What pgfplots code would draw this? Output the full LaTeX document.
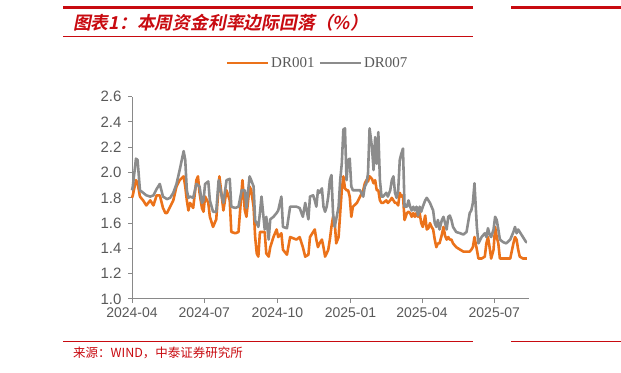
\documentclass[border=0pt]{standalone}
\usepackage{fontspec}
\setmainfont{Liberation Sans}
\newfontfamily\legfont{Liberation Serif}
\newfontfamily\cjk{Noto Sans CJK SC}
\newfontfamily\cjktitle[FakeSlant=0.2]{Noto Sans CJK SC Bold}
\usepackage{pgfplots}
\pgfplotsset{compat=1.18}
\definecolor{dro}{RGB}{235,114,26}
\definecolor{drg}{RGB}{140,140,140}
\definecolor{axg}{RGB}{137,137,137}
\definecolor{txg}{RGB}{89,89,89}
\definecolor{hred}{RGB}{200,10,16}
\begin{document}
\begin{tikzpicture}
\path[use as bounding box] (0,0) rectangle (621bp,373bp);
\fill[hred] (63bp,364bp) rectangle (473bp,367bp);
\fill[hred] (511bp,364bp) rectangle (621bp,367bp);
\draw[hred, line width=1bp] (63bp,336bp) -- (473bp,336bp);
\draw[hred, line width=1bp] (63bp,31bp) -- (473bp,31bp);
\draw[hred, line width=1bp] (511bp,31bp) -- (621bp,31bp);
\node[anchor=west, inner sep=0, text=hred, font=\cjktitle\fontsize{17.8bp}{20bp}\selectfont] at (73bp,350bp) {图表1：本周资金利率边际回落（\%）};
\node[anchor=west, inner sep=0, text=hred, font=\cjk\fontsize{12.5bp}{14bp}\selectfont] at (73bp,20bp) {来源：WIND，中泰证券研究所};
\begin{axis}[
  at={(132bp,74bp)}, anchor=south west,
  scale only axis, width=397.3bp, height=202.3bp,
  xmin=0, xmax=500, ymin=1.0, ymax=2.6,
  axis x line*=bottom, axis y line*=left,
  axis line style={axg, line width=1bp, -},
  tick align=outside, major tick length=4bp,
  tick style={axg, line width=1bp},
  xtick={0,91,183,275,365,456},
  xticklabels={2024-04,2024-07,2024-10,2025-01,2025-04,2025-07},
  ytick={1.0,1.2,1.4,1.6,1.8,2.0,2.2,2.4,2.6},
  /pgf/number format/assume math mode=true,
  ticklabel style={text=txg, font=\fontsize{14bp}{16bp}\selectfont},
  y tick label style={/pgf/number format/fixed, /pgf/number format/fixed zerofill, /pgf/number format/precision=1, xshift=-3bp, font=\fontsize{15bp}{17bp}\selectfont},
  x tick label style={yshift=-1bp},
  legend columns=2,
  legend style={at={(0.467,1.167)}, anchor=center, draw=none, fill=none,
    font=\legfont\fontsize{15bp}{17bp}\selectfont, text=txg,
    /tikz/every even column/.append style={column sep=2bp},
    inner sep=0pt},
  legend image code/.code={\draw[#1] (0bp,0bp) -- (41bp,0bp);},
  clip=false,
]
\addplot[dro, line width=2.6pt, line join=round] coordinates {
(0,1.80) (1,1.82) (5,1.94) (7,1.92) (10,1.81) (14,1.78) (18,1.74) (23,1.78) (27,1.74) (31,1.82) (35,1.82) (39,1.72) (42,1.68) (44,1.68) (48,1.73) (52,1.78) (56,1.89) (60,1.94) (65,1.97) (67,1.89) (69,1.78) (71,1.70) (73,1.76) (77,1.72) (81,1.94) (83,1.97) (85,1.84) (88,1.72) (90,1.69) (92,1.81) (96,1.76) (98,1.65) (102,1.57) (106,1.63) (110,1.97) (113,1.81) (115,1.70) (119,1.86) (123,1.78) (125,1.53) (130,1.52) (134,1.53) (139,1.94) (142,1.70) (144,1.65) (148,1.89) (150,1.86) (153,1.73) (155,1.49) (157,1.36) (159,1.335) (161,1.53) (163,1.53) (167,1.53) (169,1.36) (172,1.335) (174,1.41) (178,1.49) (182,1.55) (184,1.49) (188,1.52) (190,1.39) (195,1.35) (199,1.49) (203,1.48) (207,1.47) (211,1.49) (215,1.41) (218,1.335) (222,1.35)
(224,1.49) (228,1.53) (230,1.55) (232,1.47) (234,1.41) (236,1.44) (239,1.47) (241,1.41) (243,1.335) (245,1.36) (247,1.39) (249,1.47) (251,1.57) (253,1.65) (255,1.62) (257,1.44) (260,1.49) (262,1.68) (264,1.86) (266,1.97) (268,1.875) (270,1.86) (272,1.86) (274,1.81) (276,1.65) (278,1.73) (283,1.76) (287,1.81) (291,1.86) (293,1.915) (295,1.94) (297,1.93) (299,1.97) (302,1.95) (304,1.915) (306,1.94) (308,1.86) (310,1.86) (312,1.78) (314,1.76) (316,1.76) (320,1.78) (322,1.76) (325,1.78) (327,1.80) (329,1.78) (331,1.76) (333,1.76) (335,1.74) (337,1.84) (339,1.81) (341,1.82) (343,1.625) (346,1.68) (348,1.69) (350,1.68) (352,1.65) (354,1.68) (356,1.65) (358,1.68) (360,1.65) (362,1.68) (364,1.60) (366,1.57) (369,1.66) (371,1.55) (373,1.56) (375,1.60) (377,1.57) (379,1.55) (381,1.47) (383,1.41) (385,1.44) (387,1.44) (390,1.51) (392,1.57) (394,1.50) (396,1.47) (398,1.49) (400,1.47) (402,1.47) (404,1.44) (408,1.41) (413,1.39) (417,1.375) (421,1.375) (425,1.375) (427,1.39) (429,1.41) (431,1.49) (434,1.39) (436,1.32) (440,1.32) (444,1.335) (446,1.44) (448,1.49) (450,1.41) (452,1.32) (455,1.39) (457,1.57) (459,1.49) (461,1.44) (463,1.32) (467,1.32) (471,1.32) (476,1.32) (480,1.44) (482,1.49) (484,1.47) (486,1.39) (488,1.335) (492,1.32) (496,1.32) (497,1.32)
};
\addlegendentry{DR001}
\addplot[drg, line width=2.6pt, line join=round] coordinates {
(0,1.86) (1,1.89) (5,2.11) (7,2.10) (10,1.86) (14,1.84) (18,1.82) (23,1.81) (27,1.82) (31,1.87) (35,1.91) (39,1.81) (44,1.79) (48,1.80) (52,1.84) (56,1.91) (60,2.02) (65,2.17) (67,2.10) (69,1.86) (71,1.80) (73,1.81) (77,1.80) (81,1.91) (85,1.89) (88,1.76) (90,1.78) (92,1.91) (96,1.93) (98,1.78) (102,1.69) (106,1.69) (109,1.94) (113,1.81) (115,1.76) (119,1.94) (123,1.95) (125,1.73) (130,1.72) (134,1.73) (138,1.86) (142,1.86) (144,1.72) (148,1.97) (150,1.94) (153,1.89) (155,1.62) (157,1.60) (159,1.57) (161,1.68) (163,1.81) (167,1.55) (169,1.65) (172,1.47) (174,1.63) (178,1.65) (182,1.68) (184,1.70) (188,1.81) (190,1.57) (195,1.56) (199,1.73) (203,1.73) (207,1.73) (211,1.72) (215,1.65) (218,1.76) (222,1.63)
(224,1.81) (228,1.82) (230,1.78) (232,1.73) (234,1.86) (236,1.84) (239,1.875) (241,1.73) (243,1.69) (245,1.73) (247,1.81) (249,1.94) (251,1.98) (253,1.68) (255,1.57) (257,1.63) (260,1.73) (262,1.94) (264,2.07) (266,2.34) (268,2.35) (270,1.94) (272,2.10) (274,2.11) (276,1.89) (278,1.86) (283,1.86) (287,1.86) (291,1.81) (293,1.89) (295,1.915) (297,1.99) (299,2.35) (302,2.20) (304,2.02) (306,2.28) (308,2.07) (310,2.32) (312,1.94) (314,1.81) (316,1.81) (320,1.84) (322,1.81) (325,1.86) (327,1.94) (329,1.97) (331,1.84) (333,1.80) (335,1.86) (337,2.10) (339,2.15) (341,2.19) (343,1.73) (346,1.73) (348,1.78) (350,1.73) (352,1.70) (354,1.73) (356,1.70) (358,1.73) (360,1.66) (362,1.73) (364,1.69) (366,1.73) (369,1.78) (371,1.80) (373,1.78) (375,1.76) (377,1.73) (379,1.70) (381,1.60) (383,1.57) (385,1.625) (387,1.55) (390,1.625) (392,1.65) (394,1.60) (396,1.55) (398,1.65) (400,1.66) (402,1.625) (404,1.57) (408,1.53) (413,1.52) (417,1.51) (421,1.53) (425,1.68) (427,1.70) (429,1.76) (431,1.915) (434,1.57) (436,1.44) (440,1.49) (444,1.52) (446,1.49) (448,1.56) (450,1.51) (452,1.49) (455,1.55) (457,1.65) (459,1.625) (461,1.55) (463,1.47) (467,1.45) (471,1.44) (476,1.47) (480,1.53) (482,1.57) (484,1.52) (486,1.55) (488,1.53) (492,1.49) (496,1.45) (497,1.45)
};
\addlegendentry{DR007}
\end{axis}
\end{tikzpicture}
\end{document}
